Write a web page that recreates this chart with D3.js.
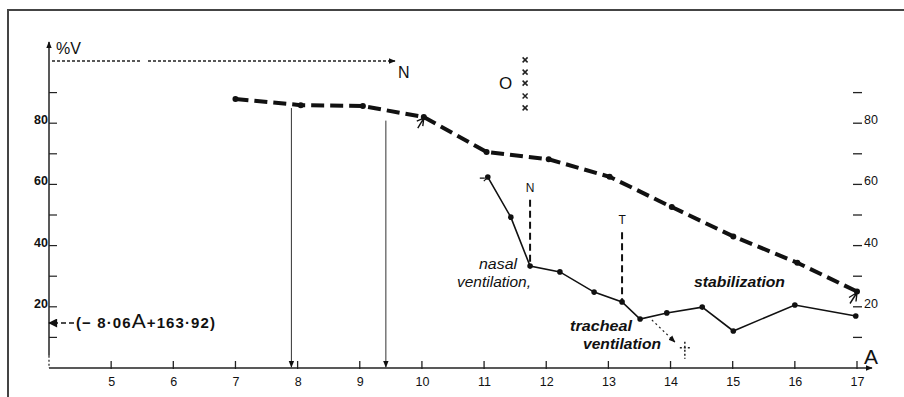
<!DOCTYPE html>
<html>
<head>
<meta charset="utf-8">
<script src="https://cdn.jsdelivr.net/npm/d3@7"></script>
<style>
  body { margin: 0; background: #fff; }
  text { font-family: "Liberation Sans", Arial, sans-serif; fill: #111; }
</style>
</head>
<body>
<div id="wrapper"></div>
<script>
// x axis = age A, y axis = %V
const ageTicks = [5, 6, 7, 8, 9, 10, 11, 12, 13, 14, 15, 16, 17]
const vMinorTicks = [10, 20, 30, 40, 50, 60, 70, 80, 90]
const vLabelTicks = [20, 40, 60, 80]

// heavy dashed curve
const dashedAge = [7, 8.05, 9.05, 10.03, 11.04, 12.04, 13.02, 14.02, 15.01, 16.04, 17]
const dashedV = [87.9, 85.9, 85.6, 82, 70.6, 68.2, 62.5, 52.6, 43, 34.4, 25]

// thin solid curve
const solidAge = [11.06, 11.43, 11.74, 12.22, 12.77, 13.22, 13.51, 13.94, 14.51, 15.01, 16.0, 16.98]
const solidV = [62.4, 49.3, 33.3, 31.4, 24.8, 21.6, 16.0, 18.0, 19.9, 12.1, 20.6, 17]

// thin vertical guides from the dashed curve down to the axis
const guideAge = [7.9, 9.42]
const guideTopV = [85.6, 81.5]

// event markers N and T
const eventLabels = ["N", "T"]
const eventAge = [11.74, 13.22]
const eventTopV = [55, 44.4]
const eventBottomV = [33.3, 21.6]

// O x-marks
const crossV = [100.7, 96.7, 93.1, 88.9, 85]

const width = 904
const height = 397

const svg = d3.select("#wrapper").append("svg")
    .attr("width", width).attr("height", height)

// frame (cut at right and bottom)
svg.append("rect")
    .attr("x", 8).attr("y", 10)
    .attr("width", 1000).attr("height", 500)
    .attr("fill", "none").attr("stroke", "#444").attr("stroke-width", 2)

const xScale = d3.scaleLinear().domain([4, 17]).range([49, 857])
const yScale = d3.scaleLinear().domain([0, 100]).range([368, 62])

const defs = svg.append("defs")
defs.append("marker").attr("id", "arrow")
    .attr("viewBox", "0 0 10 10").attr("refX", 9).attr("refY", 5)
    .attr("markerWidth", 7).attr("markerHeight", 7).attr("markerUnits", "userSpaceOnUse")
    .attr("orient", "auto")
    .append("path").attr("d", "M0,1 L10,5 L0,9 Z").attr("fill", "#111")
defs.append("marker").attr("id", "bigarrow")
    .attr("viewBox", "0 0 10 10").attr("refX", 9).attr("refY", 5)
    .attr("markerWidth", 11).attr("markerHeight", 9).attr("markerUnits", "userSpaceOnUse")
    .attr("orient", "auto")
    .append("path").attr("d", "M0,0 L10,5 L0,10 Z").attr("fill", "#111")

// x axis
const xAxis = d3.axisBottom(xScale).tickValues(ageTicks).tickSize(0).tickPadding(9)
const gx = svg.append("g").attr("transform", `translate(0,${yScale(0)})`).call(xAxis)
gx.select(".domain").remove()
gx.selectAll("text").attr("font-size", 12.5).attr("fill", "#111")
svg.append("line")
    .attr("x1", xScale(4)).attr("x2", 872)
    .attr("y1", yScale(0)).attr("y2", yScale(0))
    .attr("stroke", "#222").attr("stroke-width", 1.6)
    .attr("marker-end", "url(#arrow)")
svg.selectAll(".xtick").data(ageTicks).enter().append("line")
    .attr("x1", d => xScale(d)).attr("x2", d => xScale(d))
    .attr("y1", yScale(0) - 7).attr("y2", yScale(0) + 1)
    .attr("stroke", "#222").attr("stroke-width", 1.3)
svg.append("text").attr("x", 864).attr("y", 364)
    .attr("font-size", 21).text("A")

// left y axis
svg.append("line")
    .attr("x1", xScale(4)).attr("x2", xScale(4))
    .attr("y1", yScale(4)).attr("y2", 42)
    .attr("stroke", "#222").attr("stroke-width", 1.5)
    .attr("marker-end", "url(#arrow)")
svg.append("line")
    .attr("x1", xScale(4)).attr("x2", xScale(4))
    .attr("y1", yScale(4)).attr("y2", yScale(0))
    .attr("stroke", "#222").attr("stroke-width", 1.2).attr("stroke-dasharray", "2,2")
svg.selectAll(".ytick").data(vMinorTicks).enter().append("line")
    .attr("x1", xScale(4)).attr("x2", xScale(4) + 8)
    .attr("y1", d => yScale(d)).attr("y2", d => yScale(d))
    .attr("stroke", "#222").attr("stroke-width", 1.2)
svg.selectAll(".ylabel").data(vLabelTicks).enter().append("text")
    .attr("x", 48).attr("y", d => yScale(d) + 1)
    .attr("text-anchor", "end").attr("font-size", 12.5).attr("font-weight", "bold")
    .text(d => d)
svg.append("text").attr("x", 56).attr("y", 54)
    .attr("font-size", 16).text("%V")

// right y ticks
svg.selectAll(".rtick").data(vMinorTicks).enter().append("line")
    .attr("x1", 853).attr("x2", 862)
    .attr("y1", d => yScale(d)).attr("y2", d => yScale(d))
    .attr("stroke", "#222").attr("stroke-width", 1.3)
svg.selectAll(".rlabel").data(vLabelTicks).enter().append("text")
    .attr("x", 864).attr("y", d => yScale(d) + 1)
    .attr("font-size", 12.5).text(d => d)

// top dotted arrow to N
svg.append("line")
    .attr("x1", 52).attr("x2", 140).attr("y1", 61).attr("y2", 61)
    .attr("stroke", "#222").attr("stroke-width", 1.3).attr("stroke-dasharray", "3,2")
svg.append("line")
    .attr("x1", 148).attr("x2", 395).attr("y1", 61).attr("y2", 61)
    .attr("stroke", "#222").attr("stroke-width", 1.3).attr("stroke-dasharray", "3,2")
    .attr("marker-end", "url(#arrow)")
svg.append("text").attr("x", 398).attr("y", 78).attr("font-size", 16).text("N")

// O and crosses
svg.append("text").attr("x", 499).attr("y", 89).attr("font-size", 17).text("O")
svg.selectAll(".cross").data(crossV).enter().append("path")
    .attr("d", d => {
        const cx = xScale(11.66), cy = yScale(d)
        return `M${cx - 2.5},${cy - 2.5}L${cx + 2.5},${cy + 2.5}M${cx + 2.5},${cy - 2.5}L${cx - 2.5},${cy + 2.5}`
    })
    .attr("stroke", "#222").attr("stroke-width", 1.5)

// guide verticals
guideAge.forEach((a, i) => {
    svg.append("line")
        .attr("x1", xScale(a)).attr("x2", xScale(a))
        .attr("y1", yScale(guideTopV[i]) + 2).attr("y2", yScale(0) - 1)
        .attr("stroke", "#333").attr("stroke-width", 1)
        .attr("marker-end", "url(#arrow)")
})

// event dashed verticals
eventAge.forEach((a, i) => {
    svg.append("line")
        .attr("x1", xScale(a)).attr("x2", xScale(a))
        .attr("y1", yScale(eventTopV[i])).attr("y2", yScale(eventBottomV[i]))
        .attr("stroke", "#111").attr("stroke-width", 2).attr("stroke-dasharray", "7,4")
    svg.append("text").attr("x", xScale(a)).attr("y", yScale(eventTopV[i]) - 8)
        .attr("text-anchor", "middle").attr("font-size", 12).text(eventLabels[i])
})

// heavy dashed curve
const dashedData = dashedAge.map((a, i) => [a, dashedV[i]])
const line = d3.line().x(d => xScale(d[0])).y(d => yScale(d[1])).curve(d3.curveLinear)
svg.append("path").datum(dashedData)
    .attr("d", line).attr("fill", "none")
    .attr("stroke", "#111").attr("stroke-width", 4)
    .attr("stroke-dasharray", "13,6")
svg.selectAll(".ddot").data(dashedData).enter().append("circle")
    .attr("cx", d => xScale(d[0])).attr("cy", d => yScale(d[1]))
    .attr("r", 3).attr("fill", "#111")

// thin solid curve
const solidData = solidAge.map((a, i) => [a, solidV[i]])
svg.append("path").datum(solidData)
    .attr("d", line).attr("fill", "none")
    .attr("stroke", "#111").attr("stroke-width", 1.6)
svg.selectAll(".sdot").data(solidData).enter().append("circle")
    .attr("cx", d => xScale(d[0])).attr("cy", d => yScale(d[1]))
    .attr("r", 2.8).attr("fill", "#111")

// small hand-drawn arrow ticks
const sx = xScale(10.03), sy = yScale(82)
svg.append("path")
    .attr("d", `M${sx - 6},${sy + 11}L${sx},${sy + 1}M${sx - 7},${sy + 4}L${sx},${sy + 1}L${sx - 1},${sy + 9}`)
    .attr("fill", "none").attr("stroke", "#111").attr("stroke-width", 1.4)
const ex = xScale(17), ey = yScale(25)
svg.append("path")
    .attr("d", `M${ex - 7},${ey + 12}L${ex},${ey + 1}M${ex - 8},${ey + 6}L${ex},${ey + 1}L${ex - 1},${ey + 10}`)
    .attr("fill", "none").attr("stroke", "#111").attr("stroke-width", 1.4)
const bx = xScale(11.06), by = yScale(62.4)
svg.append("path")
    .attr("d", `M${bx - 8},${by + 1}L${bx - 3},${by + 1}M${bx - 4},${by + 4}L${bx},${by}`)
    .attr("fill", "none").attr("stroke", "#111").attr("stroke-width", 1.2)

// dotted arrow to dagger
svg.append("line")
    .attr("x1", xScale(13.7)).attr("y1", yScale(15.7))
    .attr("x2", xScale(14.07)).attr("y2", yScale(8.5))
    .attr("stroke", "#222").attr("stroke-width", 1.2).attr("stroke-dasharray", "2,3")
    .attr("marker-end", "url(#arrow)")
const dx = xScale(14.23), dy = yScale(6)
svg.append("path")
    .attr("d", `M${dx},${dy - 8}L${dx},${dy + 9}M${dx - 5},${dy - 2}L${dx + 5},${dy - 2}`)
    .attr("stroke", "#222").attr("stroke-width", 1.5).attr("stroke-dasharray", "2,2")

// equation arrow
const eqY = yScale(14.7)
svg.append("line")
    .attr("x1", 74).attr("x2", 49).attr("y1", eqY).attr("y2", eqY)
    .attr("stroke", "#111").attr("stroke-width", 1.6).attr("stroke-dasharray", "5,3")
    .attr("marker-end", "url(#bigarrow)")
const eq = svg.append("text").attr("x", 76).attr("y", eqY + 5)
    .attr("font-size", 15).attr("font-weight", "bold")
    .attr("textLength", 139).attr("lengthAdjust", "spacing")
eq.append("tspan").text("(\u2212 8\u00b706")
eq.append("tspan").attr("font-size", 21).attr("font-weight", "normal").text("A")
eq.append("tspan").text("+163\u00b792)")

// annotations
const notes = [
    { t: "nasal", x: 479, y: 269, w: 38, bold: false },
    { t: "ventilation,", x: 457, y: 287, w: 74, bold: false },
    { t: "tracheal", x: 570, y: 331, w: 62, bold: true },
    { t: "ventilation", x: 583, y: 349, w: 78, bold: true },
    { t: "stabilization", x: 694, y: 287, w: 91, bold: true }
]
svg.selectAll(".note").data(notes).enter().append("text")
    .attr("x", d => d.x).attr("y", d => d.y)
    .attr("font-size", 14).attr("font-style", "italic")
    .attr("font-weight", d => d.bold ? "bold" : "normal")
    .attr("textLength", d => d.w).attr("lengthAdjust", "spacingAndGlyphs")
    .text(d => d.t)
</script>
</body>
</html>
